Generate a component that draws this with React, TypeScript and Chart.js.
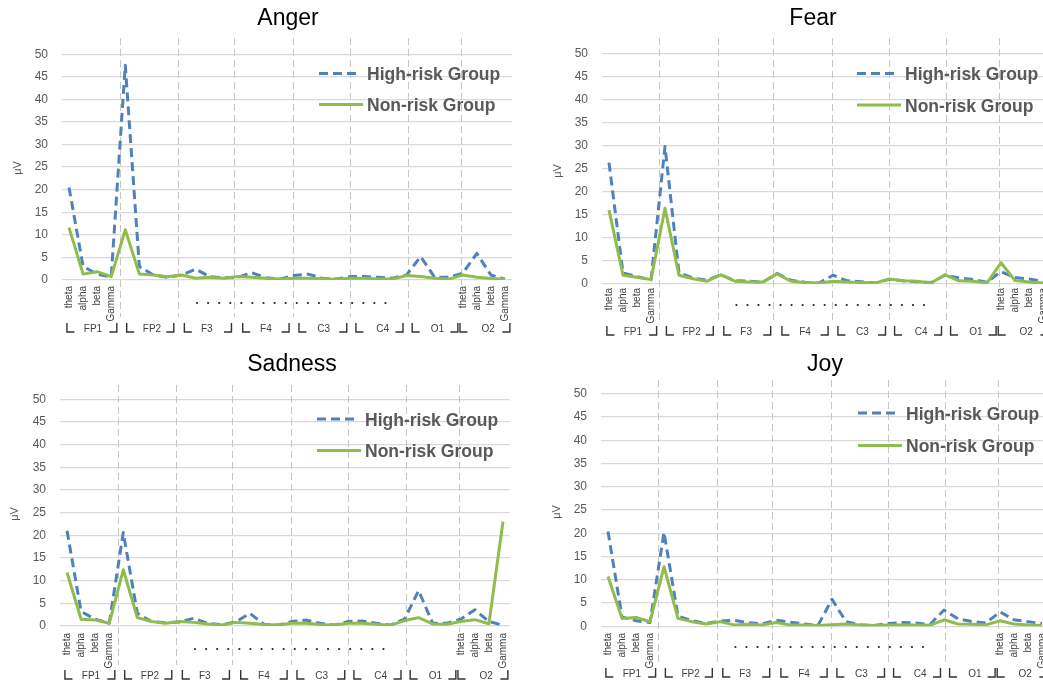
import React, { useEffect, useRef } from 'react';
import { Chart, registerables } from 'chart.js';

Chart.register(...registerables);

// ---------- data ----------
const BANDS = ['theta', 'alpha', 'beta', 'Gamma'];
const CHANNELS = ['FP1', 'FP2', 'F3', 'F4', 'C3', 'C4', 'O1', 'O2'];
const LABELED_CHANNELS = ['FP1', 'O2'];
const CATEGORIES = CHANNELS.flatMap((ch) => BANDS.map((b) => ch + ' ' + b));
const Y_TICKS = [0, 5, 10, 15, 20, 25, 30, 35, 40, 45, 50];
const SERIES_NAMES = ['High-risk Group', 'Non-risk Group'];

const ANGER_HIGH = [20.5, 3.0, 1.3, 0.7, 47.6, 3.0, 1.1, 0.6, 1.1, 2.4, 0.75, 0.5, 0.6, 1.6, 0.5, 0.2, 1.0, 1.3, 0.4, 0.2, 0.75, 0.75, 0.6, 0.4, 1.1, 5.2, 0.6, 0.6, 1.5, 5.9, 1.1, 0.2];
const ANGER_NON = [11.6, 1.3, 1.85, 0.75, 11.1, 1.35, 1.1, 0.7, 1.1, 0.4, 0.6, 0.4, 0.75, 0.6, 0.4, 0.2, 0.4, 0.4, 0.3, 0.15, 0.4, 0.4, 0.2, 0.2, 1.0, 0.75, 0.4, 0.2, 1.1, 0.6, 0.35, 0.15];
const FEAR_HIGH = [26.3, 2.4, 1.6, 0.9, 29.8, 2.4, 1.3, 0.8, 2.0, 0.7, 0.6, 0.4, 2.3, 0.8, 0.4, 0.2, 1.9, 0.7, 0.5, 0.2, 1.0, 0.7, 0.5, 0.3, 1.9, 1.3, 1.0, 0.4, 2.7, 1.4, 1.1, 0.6];
const FEAR_NON = [16.0, 1.9, 1.45, 0.95, 16.4, 1.9, 1.15, 0.6, 2.0, 0.6, 0.45, 0.45, 2.2, 0.6, 0.35, 0.2, 0.6, 0.45, 0.35, 0.2, 1.1, 0.7, 0.6, 0.2, 2.0, 0.7, 0.6, 0.25, 4.6, 0.75, 0.45, 0.2];
const SADNESS_HIGH = [21.0, 3.2, 1.5, 0.6, 20.6, 2.8, 1.0, 0.7, 0.9, 1.7, 0.6, 0.3, 0.9, 2.8, 0.4, 0.2, 1.0, 1.3, 0.6, 0.2, 1.0, 1.1, 0.6, 0.2, 1.5, 7.8, 0.6, 0.6, 1.5, 3.6, 1.0, 0.15];
const SADNESS_NON = [11.8, 1.5, 1.35, 0.6, 12.4, 1.85, 1.0, 0.6, 1.0, 0.8, 0.45, 0.2, 0.8, 0.6, 0.35, 0.2, 0.6, 0.6, 0.35, 0.2, 0.6, 0.6, 0.4, 0.15, 1.2, 1.85, 0.45, 0.4, 1.0, 1.4, 0.5, 23.0];
const JOY_HIGH = [20.4, 2.0, 1.2, 0.8, 20.2, 2.2, 1.2, 0.6, 1.1, 1.3, 0.8, 0.5, 1.3, 0.9, 0.5, 0.2, 5.8, 1.0, 0.3, 0.2, 0.6, 0.8, 0.7, 0.4, 3.5, 1.6, 1.0, 0.7, 3.1, 1.4, 1.0, 0.6];
const JOY_NON = [10.7, 1.7, 1.9, 1.0, 12.8, 1.7, 1.0, 0.5, 1.0, 0.3, 0.45, 0.3, 0.8, 0.3, 0.3, 0.15, 0.35, 0.5, 0.3, 0.15, 0.3, 0.3, 0.3, 0.2, 1.4, 0.5, 0.45, 0.3, 1.2, 0.5, 0.3, 0.15];

// annotation positions in category units
const DIVIDERS = [3.6, 7.75, 11.7, 15.9, 20.0, 24.1, 27.85];
const BRACKET_OPEN = [0.1, 4.35, 8.45, 12.6, 16.6, 20.65, 24.65, 28.05];
const BRACKET_CLOSE = [3.15, 7.2, 11.3, 15.4, 19.5, 23.5, 27.4, 31.1];
const GROUP_LABEL_AT = [1.7, 5.9, 9.8, 14.0, 18.1, 22.3, 26.2, 29.8];
const DOTS_FROM = 9.1;
const DOTS_TO = 22.5;
const DOTS_COUNT = 18;

const BLUE = '#4F81BD';
const GREEN = '#8FBC4C';
const GREY_TEXT = '#595959';
const SANS = '"Liberation Sans", Arial, sans-serif';

type Panel = {
  title: string;
  high: number[];
  non: number[];
  left: number;
  top: number;
  width: number;
  height: number;
  area: { l: number; t: number; r: number; b: number };
  titleX: number;
  titleBase: number;
  legendX: number;
  legendBase: number[];
  mu: { x: number; y: number };
  divTop: number;
  divBottom: number;
  labelTop: number;
  dotsY: number;
  bracketY: number;
};

const PANELS: Panel[] = [
  {
    title: 'Anger', high: ANGER_HIGH, non: ANGER_NON,
    left: 0, top: 0, width: 520, height: 342,
    area: { l: 62, t: 54.3, r: 512, b: 280 },
    titleX: 288, titleBase: 25, legendX: 319, legendBase: [80, 111],
    mu: { x: 18, y: 168 }, divTop: 38, divBottom: 317, labelTop: 286, dotsY: 303, bracketY: 328,
  },
  {
    title: 'Fear', high: FEAR_HIGH, non: FEAR_NON,
    left: 520, top: 0, width: 540, height: 342,
    area: { l: 82, t: 53.3, r: 530, b: 284 },
    titleX: 293, titleBase: 25, legendX: 337, legendBase: [80, 111.5],
    mu: { x: 38, y: 171 }, divTop: 38, divBottom: 320, labelTop: 288, dotsY: 305, bracketY: 331,
  },
  {
    title: 'Sadness', high: SADNESS_HIGH, non: SADNESS_NON,
    left: 0, top: 342, width: 520, height: 342,
    area: { l: 60, t: 57.3, r: 510, b: 284 },
    titleX: 292, titleBase: 29, legendX: 317, legendBase: [83.5, 115],
    mu: { x: 15, y: 172 }, divTop: 43, divBottom: 323, labelTop: 291, dotsY: 307, bracketY: 333,
  },
  {
    title: 'Joy', high: JOY_HIGH, non: JOY_NON,
    left: 520, top: 342, width: 540, height: 342,
    area: { l: 81, t: 51.7, r: 529, b: 284.3 },
    titleX: 305, titleBase: 29, legendX: 338, legendBase: [77.5, 110],
    mu: { x: 37, y: 170 }, divTop: 38, divBottom: 320, labelTop: 291, dotsY: 305, bracketY: 331,
  },
];

function makeAnnotPlugin(p: Panel) {
  return {
    id: 'annot',
    beforeDatasetsDraw(chart: any) {
      const ctx = chart.ctx;
      const xs = chart.scales.x;
      ctx.save();
      ctx.strokeStyle = '#c6c6c6';
      ctx.lineWidth = 1;
      ctx.setLineDash([7, 4]);
      DIVIDERS.forEach((d, i) => {
        const x = Math.round(xs.getPixelForValue(d)) + 0.5;
        const bottom = i === DIVIDERS.length - 1 ? p.labelTop - 1 : p.divBottom;
        ctx.beginPath();
        ctx.moveTo(x, p.divTop);
        ctx.lineTo(x, bottom);
        ctx.stroke();
      });
      ctx.restore();
    },
    afterDraw(chart: any) {
      const ctx = chart.ctx;
      const xs = chart.scales.x;
      ctx.save();
      // title
      ctx.fillStyle = '#000';
      ctx.font = '23px ' + SANS;
      ctx.textAlign = 'center';
      ctx.textBaseline = 'alphabetic';
      ctx.fillText(p.title, p.titleX, p.titleBase);

      // y-axis unit
      ctx.save();
      ctx.translate(p.mu.x, p.mu.y);
      ctx.rotate(-Math.PI / 2);
      ctx.font = '11px ' + SANS;
      ctx.fillStyle = GREY_TEXT;
      ctx.textAlign = 'center';
      ctx.textBaseline = 'middle';
      ctx.fillText('\u03BCV', 0, 0);
      ctx.restore();

      // band labels (rotated) for labelled channels
      ctx.font = '10px ' + SANS;
      ctx.fillStyle = '#404040';
      LABELED_CHANNELS.forEach((ch) => {
        const ci = CHANNELS.indexOf(ch);
        BANDS.forEach((b, j) => {
          const x = xs.getPixelForValue(ci * BANDS.length + j);
          ctx.save();
          ctx.translate(x, p.labelTop);
          ctx.rotate(-Math.PI / 2);
          ctx.textAlign = 'right';
          ctx.textBaseline = 'middle';
          ctx.fillText(b, 0, 0);
          ctx.restore();
        });
      });

      // dotted ellipsis row
      ctx.fillStyle = '#222';
      for (let k = 0; k < DOTS_COUNT; k++) {
        const c = DOTS_FROM + (k * (DOTS_TO - DOTS_FROM)) / (DOTS_COUNT - 1);
        const x = xs.getPixelForValue(c);
        ctx.beginPath();
        ctx.arc(x, p.dotsY, 1.1, 0, Math.PI * 2);
        ctx.fill();
      }

      // channel brackets
      ctx.strokeStyle = '#333';
      ctx.lineWidth = 1.4;
      ctx.setLineDash([]);
      const cy = p.bracketY;
      CHANNELS.forEach((ch, g) => {
        const xo = xs.getPixelForValue(BRACKET_OPEN[g]);
        ctx.beginPath();
        ctx.moveTo(xo - 3.5, cy - 5);
        ctx.lineTo(xo - 3.5, cy + 4);
        ctx.lineTo(xo + 4, cy + 4);
        ctx.stroke();
        const xc = xs.getPixelForValue(BRACKET_CLOSE[g]);
        ctx.beginPath();
        ctx.moveTo(xc + 3.5, cy - 5);
        ctx.lineTo(xc + 3.5, cy + 4);
        ctx.lineTo(xc - 4, cy + 4);
        ctx.stroke();
        ctx.font = '10px ' + SANS;
        ctx.fillStyle = '#404040';
        ctx.textAlign = 'center';
        ctx.textBaseline = 'alphabetic';
        ctx.fillText(ch, xs.getPixelForValue(GROUP_LABEL_AT[g]), cy + 4);
      });

      // legend
      chart.data.datasets.forEach((ds: any, i: number) => {
        const base = p.legendBase[i];
        const ly = base - 6.5;
        ctx.strokeStyle = ds.borderColor;
        ctx.lineWidth = 3;
        ctx.setLineDash(ds.borderDash || []);
        ctx.beginPath();
        ctx.moveTo(p.legendX, ly);
        ctx.lineTo(p.legendX + (ds.borderDash ? 40 : 44), ly);
        ctx.stroke();
        ctx.setLineDash([]);
        ctx.font = 'bold 17.5px ' + SANS;
        ctx.fillStyle = GREY_TEXT;
        ctx.textAlign = 'left';
        ctx.textBaseline = 'alphabetic';
        ctx.fillText(ds.label, p.legendX + 48, base);
      });
      ctx.restore();
    },
  };
}

function PanelChart({ p }: { p: Panel }) {
  const ref = useRef<HTMLCanvasElement | null>(null);
  useEffect(() => {
    if (!ref.current) return;
    const chart = new Chart(ref.current, {
      type: 'line',
      data: {
        labels: CATEGORIES,
        datasets: [
          {
            label: SERIES_NAMES[0],
            data: p.high,
            borderColor: BLUE,
            borderWidth: 3,
            borderDash: [9, 5],
            borderJoinStyle: 'round',
            pointRadius: 0,
            tension: 0,
            fill: false,
            order: 1,
          },
          {
            label: SERIES_NAMES[1],
            data: p.non,
            borderColor: GREEN,
            borderWidth: 3,
            borderJoinStyle: 'round',
            pointRadius: 0,
            tension: 0,
            fill: false,
            order: 0,
          },
        ],
      },
      options: {
        responsive: false,
        animation: false,
        devicePixelRatio: 1,
        layout: {
          padding: { left: 0, top: p.area.t, right: p.width - p.area.r, bottom: p.height - p.area.b },
        },
        plugins: {
          legend: { display: false },
          tooltip: { enabled: false },
          title: { display: false },
        },
        scales: {
          x: {
            type: 'category',
            display: false,
            offset: true,
          },
          y: {
            min: 0,
            max: 50,
            afterBuildTicks: (scale: any) => {
              scale.ticks = Y_TICKS.map((v) => ({ value: v }));
            },
            afterFit: (scale: any) => {
              scale.width = p.area.l;
            },
            ticks: {
              color: GREY_TEXT,
              font: { family: SANS, size: 12 },
              padding: 14,
            },
            grid: { color: '#d9d9d9', lineWidth: 1.3, drawTicks: false },
            border: { display: false },
          },
        },
      } as any,
      plugins: [makeAnnotPlugin(p)],
    });
    return () => chart.destroy();
  }, [p]);
  return (
    <div style={{ position: 'absolute', left: p.left, top: p.top, width: p.width, height: p.height }}>
      <canvas ref={ref} width={p.width} height={p.height} style={{ display: 'block' }} />
    </div>
  );
}

export default function App() {
  return (
    <div
      style={{
        position: 'absolute',
        left: 0,
        top: 0,
        width: 1043,
        height: 684,
        overflow: 'hidden',
        background: '#fff',
      }}
    >
      {PANELS.map((p) => (
        <PanelChart key={p.title} p={p} />
      ))}
    </div>
  );
}
